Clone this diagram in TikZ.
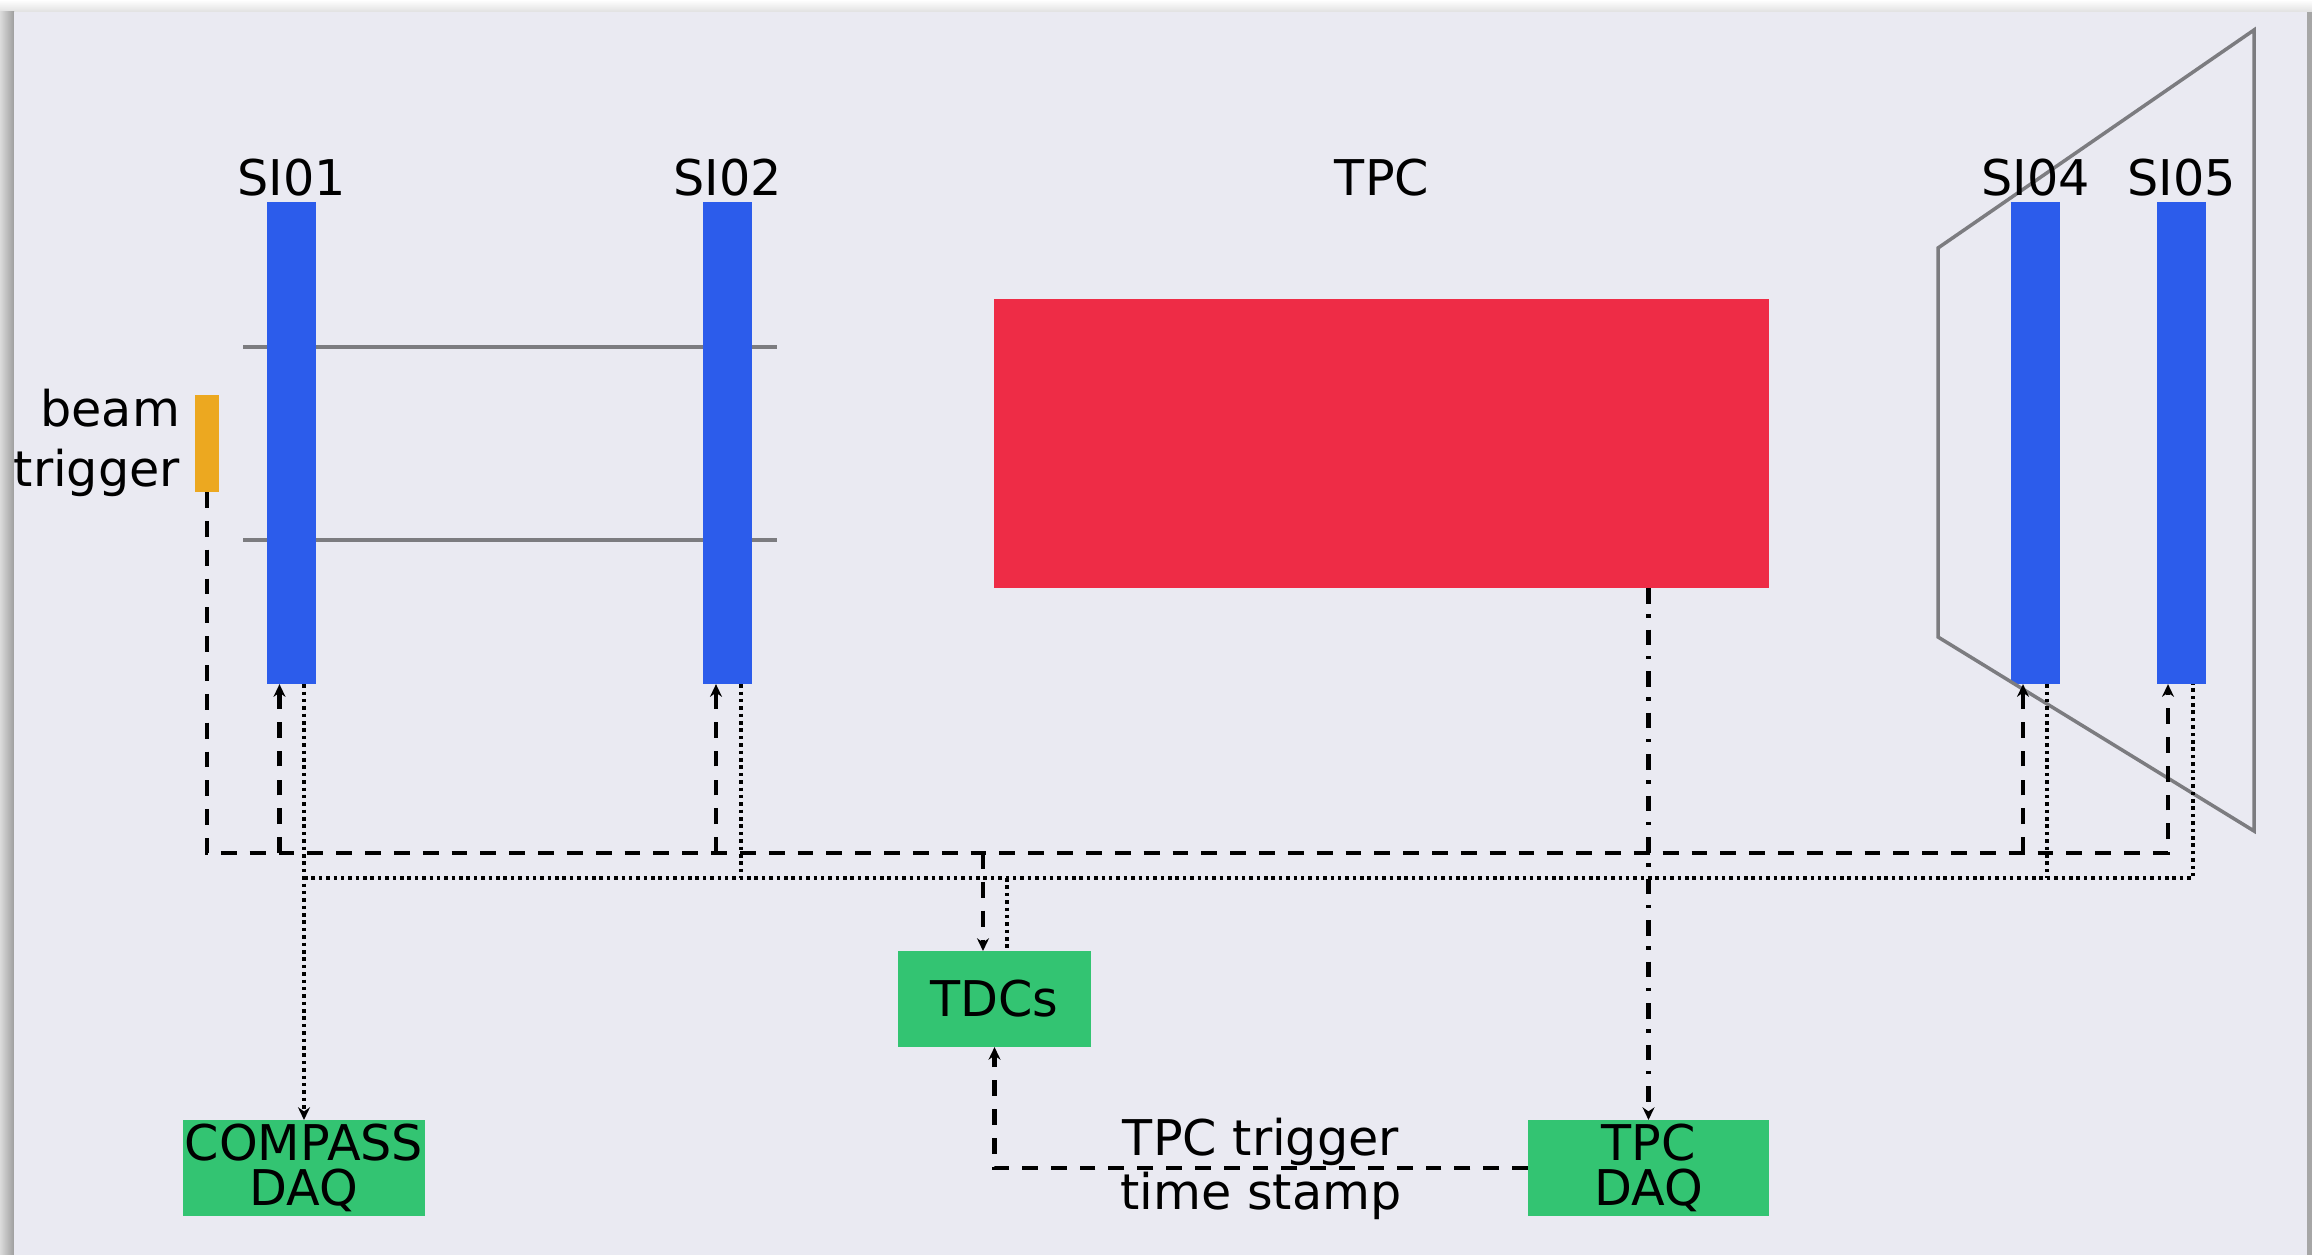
\documentclass[tikz,border=0pt]{standalone}
\usepackage{fontspec}
\setmainfont{DejaVu Sans}
\usetikzlibrary{arrows.meta}
\definecolor{panelbg}{RGB}{234,234,242}
\definecolor{siblue}{RGB}{44,92,235}
\definecolor{tpcred}{RGB}{238,44,70}
\definecolor{trigorange}{RGB}{236,168,32}
\definecolor{daqgreen}{RGB}{51,196,114}
\definecolor{framegray}{RGB}{124,124,128}
\begin{document}
\begin{tikzpicture}[x=0.01cm,y=-0.01cm,
  >={Stealth[length=3.6pt,width=3.4pt]},
  bar/.style={fill=siblue,draw=none,inner sep=0pt,outer sep=0pt,minimum width=0.49cm,minimum height=4.82cm},
  lbl/.style={inner sep=0pt,outer sep=0pt,font=\fontsize{14pt}{16.8pt}\selectfont},
  daqbox/.style={fill=daqgreen,draw=none,inner sep=0pt,outer sep=0pt,align=center,minimum height=0.96cm,font=\fontsize{14pt}{12.8pt}\selectfont},
  grayl/.style={draw=framegray,line width=1pt},
  dsh/.style={draw=black,line width=1.2pt,dash pattern=on 4.5pt off 3.7pt},
  dotl/.style={draw=black,line width=1.15pt,dash pattern=on 1pt off 1.1pt},
  dshdot/.style={draw=black,line width=1.2pt,dash pattern=on 4.5pt off 3pt on 1pt off 3.3pt}
]
\useasboundingbox (0,0) rectangle (2312,1255);
% background and frame shadow
\fill[white] (0,0) rectangle (2312,1255);
\shade[top color=white,bottom color=black!12] (0,0) rectangle (2312,12);
\shade[left color=black!14,right color=black!38] (0,12) rectangle (14,1255);
\fill[black!35] (2307,12) rectangle (2312,1255);
\fill[panelbg] (14,12) rectangle (2307,1255);

% gray guide lines
\draw[grayl] (243,347) -- (777,347);
\draw[grayl] (243,540) -- (777,540);

% detectors
\node[bar] (si1) at (291.5,443) {};
\node[bar] (si2) at (727.5,443) {};
\node[bar] (si4) at (2035.5,443) {};
\node[bar] (si5) at (2181.5,443) {};
\node[fill=tpcred,inner sep=0pt,outer sep=0pt,minimum width=7.75cm,minimum height=2.89cm] (tpc) at (1381.5,443.5) {};
\node[fill=trigorange,inner sep=0pt,outer sep=0pt,minimum width=0.24cm,minimum height=0.97cm] (bt) at (207,443.5) {};

% magnet outline
\draw[grayl,line join=miter] (1938,248) -- (2254,30) -- (2254,831) -- (1938,637) -- cycle;

% labels
\node[lbl,anchor=base] (si1l) at (291.5,196) {SI01};
\node[lbl,anchor=base] (si2l) at (727.5,196) {SI02};
\node[lbl,anchor=base] (tpcl) at (1382,196) {TPC};
\node[lbl,anchor=base] (si4l) at (2035.5,196) {SI04};
\node[lbl,anchor=base] (si5l) at (2181.5,196) {SI05};
\node[lbl,anchor=base east] (btl1) at (180,426) {beam};
\node[lbl,anchor=base east] (btl2) at (180,486) {trigger};

% DAQ boxes
\node[daqbox,minimum width=2.42cm] (cdaq) at (304,1168) {COMPASS\\DAQ};
\node[daqbox,minimum width=2.41cm] (tdaq) at (1648.5,1168) {TPC\\DAQ};
\node[daqbox,minimum width=1.93cm,font=\fontsize{14pt}{16.8pt}\selectfont] (tdc) at (994.5,999) {TDCs};

\coordinate (busd) at (0,853);
\coordinate (buso) at (0,878);

% trigger (dashed) bus
\draw[dsh,->] (bt.south) |- ([xshift=-0.135cm]si5.south |- busd) -- ([xshift=-0.135cm]si5.south);
\draw[dsh,->] ([xshift=-0.12cm]si1.south |- busd) -- ([xshift=-0.12cm]si1.south);
\draw[dsh,->] ([xshift=-0.115cm]si2.south |- busd) -- ([xshift=-0.115cm]si2.south);
\draw[dsh,->] ([xshift=-0.125cm]si4.south |- busd) -- ([xshift=-0.125cm]si4.south);
\draw[dsh,->] ([xshift=-0.115cm]tdc.north |- busd) -- ([xshift=-0.115cm]tdc.north);

% readout (dotted) bus
\draw[dotl,->] (cdaq.north |- si1.south) -- (cdaq.north);
\draw[dotl] (cdaq.north |- buso) -| ([xshift=0.115cm]si5.south);
\draw[dotl] ([xshift=0.135cm]si2.south) -- ([xshift=0.135cm]si2.south |- buso);
\draw[dotl] ([xshift=0.115cm]si4.south) -- ([xshift=0.115cm]si4.south |- buso);
\draw[dotl] ([xshift=0.125cm]tdc.north |- buso) -- ([xshift=0.125cm]tdc.north);

% TPC readout
\draw[dshdot,->] (tpc.south -| tdaq.north) -- (tdaq.north);

% TPC trigger time stamp
\draw[dsh,->] (tdaq.west) -| (tdc.south);
\node[lbl,anchor=base] (tts1) at (1261,1155) {TPC trigger};
\node[lbl,anchor=base] (tts2) at (1261,1209) {time stamp};
\end{tikzpicture}
\end{document}
